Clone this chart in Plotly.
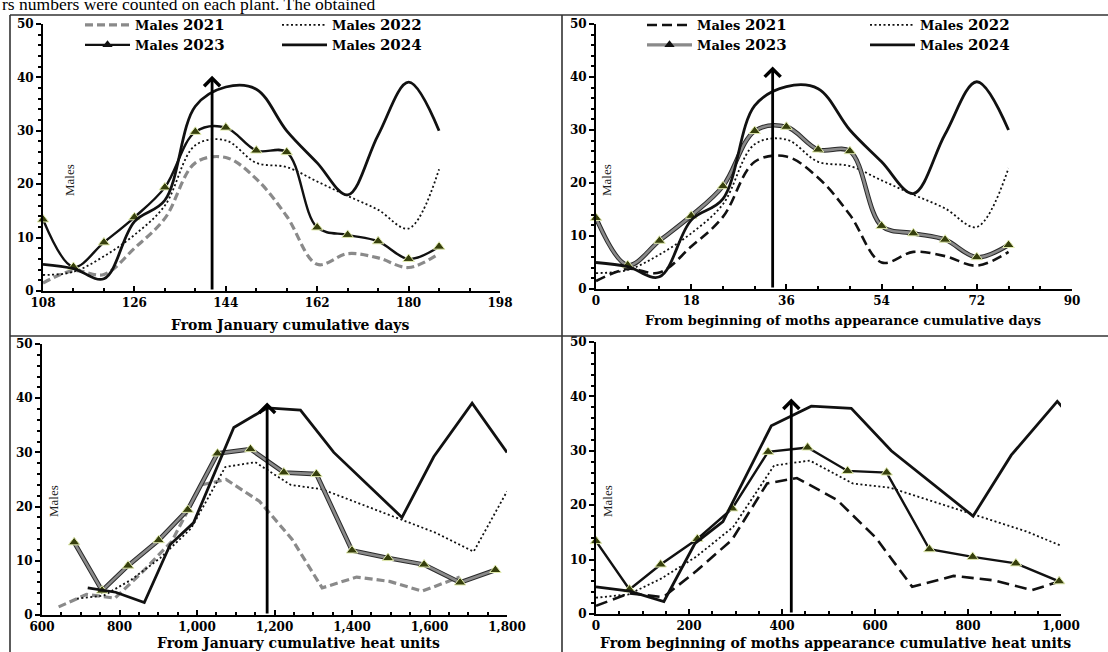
import plotly.graph_objects as go

# ---------------- data ----------------
days_jan = [108, 114, 120, 126, 132, 138, 144, 150, 156, 162, 168, 174, 180, 186]
days_moth = [0, 6, 12, 18, 24, 30, 36, 42, 48, 54, 60, 66, 72, 78]

males_2021 = [1.5, 3.8, 3.1, 8.0, 13.6, 24.0, 25.0, 21.0, 14.0, 5.0, 7.0, 6.2, 4.4, 7.0]
males_2022 = [3.0, 3.6, 6.5, 10.5, 16.0, 27.3, 28.2, 24.0, 23.2, 20.5, 17.8, 15.2, 11.7, 22.8]
males_2023 = [13.4, 4.5, 9.1, 13.8, 19.4, 29.8, 30.6, 26.3, 26.0, 11.9, 10.5, 9.3, 6.0, 8.3]
males_2024 = [5.0, 4.2, 2.3, 13.0, 17.0, 34.6, 38.2, 37.8, 30.0, 24.0, 18.0, 29.2, 39.1, 30.0]

heat_jan_2021 = [643, 715, 788, 860, 935, 1011, 1075, 1161, 1245, 1323, 1412, 1497, 1581, 1678]
heat_jan_2022 = [690, 760, 830, 905, 985, 1073, 1150, 1242, 1323, 1420, 1520, 1615, 1714, 1800]
heat_jan_2023 = [683, 755, 822, 901, 976, 1053, 1138, 1224, 1308, 1400, 1493, 1586, 1679, 1770]
heat_jan_2024 = [718, 790, 864, 931, 991, 1095, 1181, 1267, 1353, 1440, 1529, 1611, 1710, 1800]

heat_moth_2021 = [0, 72, 145, 217, 292, 368, 432, 518, 602, 680, 769, 854, 938, 1035]
heat_moth_2022 = [0, 70, 140, 215, 295, 383, 460, 552, 633, 730, 830, 925, 1024, 1110]
heat_moth_2023 = [0, 72, 139, 218, 293, 370, 455, 541, 625, 717, 810, 903, 996, 1087]
heat_moth_2024 = [0, 72, 146, 213, 273, 377, 463, 549, 635, 722, 811, 893, 992, 1082]

# peak-marker arrows (x position, arrow tip height) per panel
arrow_x = [141.3, 33.4, 1181, 420]
arrow_top = [40.3, 42.0, 39.2, 39.6]

x_titles = ["From January cumulative days",
            "From beginning of moths appearance cumulative days",
            "From January cumulative heat units",
            "From beginning of moths appearance cumulative heat units"]
y_label = "Males"
years = ["2021", "2022", "2023", "2024"]
top_text = "rs numbers were counted on each plant. The obtained"

# ---------------- styling ----------------
W, H = 1108, 652
GRAY = "#8a8a8a"
BLACK = "#111111"
SERIF = "DejaVu Serif"


def px_x(p):
    return p / W


def px_y(p):
    return 1 - p / H


fig = go.Figure()


def name(y):
    return "Males <span style='font-size:15px'>%s</span>" % y


marker_tri = dict(symbol="triangle-up", size=10, color="#363f0c",
                  line=dict(color="#e2ebb0", width=1))

panels = [
    dict(x="x", y="y", xs=[days_jan] * 4, shape="spline",
         c21=GRAY, d21="8px,4px", w21=3.2, c23=BLACK, w23=2.4, edge=False,
         legends=("legend", "legend2", "legend", "legend2"), show=True),
    dict(x="x2", y="y2", xs=[days_moth] * 4, shape="spline",
         c21=BLACK, d21="10px,5px", w21=2.6, c23=GRAY, w23=2.6, edge=True,
         legends=("legend3", "legend4", "legend3", "legend4"), show=True),
    dict(x="x3", y="y3", xs=[heat_jan_2021, heat_jan_2022, heat_jan_2023, heat_jan_2024],
         shape="linear", c21=GRAY, d21="8px,4px", w21=3.2, c23=GRAY, w23=2.6, edge=True,
         legends=("legend",) * 4, show=False),
    dict(x="x4", y="y4", xs=[heat_moth_2021, heat_moth_2022, heat_moth_2023, heat_moth_2024],
         shape="linear", c21=BLACK, d21="12px,6px", w21=2.6, c23=BLACK, w23=2.4, edge=False,
         legends=("legend",) * 4, show=False),
]
x_ranges = [[108, 198], [0, 90], [600, 1800], [0, 1000]]

for i, p in enumerate(panels):
    xs = p["xs"]
    sm = dict(shape=p["shape"])
    fig.add_trace(go.Scatter(x=xs[0], y=males_2021, mode="lines", name=name("2021"),
                             line=dict(color=p["c21"], width=p["w21"], dash=p["d21"], **sm),
                             xaxis=p["x"], yaxis=p["y"], legend=p["legends"][0],
                             showlegend=p["show"]))
    fig.add_trace(go.Scatter(x=xs[1], y=males_2022, mode="lines", name=name("2022"),
                             line=dict(color=BLACK, width=1.8, dash="2px,2.5px", **sm),
                             xaxis=p["x"], yaxis=p["y"], legend=p["legends"][1],
                             showlegend=p["show"]))
    lo, hi = x_ranges[i]
    if p["edge"]:
        fig.add_trace(go.Scatter(x=xs[2], y=males_2023, mode="lines",
                                 line=dict(color="#2a2a2a", width=p["w23"] + 2.0, **sm),
                                 xaxis=p["x"], yaxis=p["y"], showlegend=False))
    fig.add_trace(go.Scatter(x=xs[2], y=males_2023, mode="lines", name=name("2023"),
                             line=dict(color=p["c23"], width=p["w23"], **sm),
                             xaxis=p["x"], yaxis=p["y"], showlegend=False))
    vis = [(a, b) for a, b in zip(xs[2], males_2023) if lo <= a <= hi]
    fig.add_trace(go.Scatter(x=[a for a, b in vis], y=[b for a, b in vis],
                             mode="markers", name=name("2023"),
                             marker=marker_tri, cliponaxis=False,
                             xaxis=p["x"], yaxis=p["y"], showlegend=False))
    if p["show"]:
        fig.add_trace(go.Scatter(x=[None], y=[None], mode="lines+markers", name=name("2023"),
                                 line=dict(color=p["c23"], width=p["w23"] + (0.6 if p["edge"] else 0)),
                                 marker=dict(symbol="triangle-up", size=9, color=BLACK),
                                 xaxis=p["x"], yaxis=p["y"], legend=p["legends"][2],
                                 showlegend=True))
    fig.add_trace(go.Scatter(x=xs[3], y=males_2024, mode="lines", name=name("2024"),
                             line=dict(color=BLACK, width=2.8, **sm),
                             xaxis=p["x"], yaxis=p["y"], legend=p["legends"][3],
                             showlegend=p["show"]))

tickfont = dict(family=SERIF, size=12, color="black", weight="bold")


def xax(domain, rng, dtick, minor, anchor, fmt=""):
    return dict(domain=domain, range=rng, tick0=rng[0], dtick=dtick, anchor=anchor,
                automargin=False,
                showline=True, linecolor="black", linewidth=2,
                ticks="inside", ticklen=5, tickwidth=2, tickcolor="black",
                minor=dict(dtick=minor, tick0=rng[0], ticks="inside", ticklen=3,
                           tickwidth=1.5, tickcolor="black"),
                showgrid=False, zeroline=False, tickfont=tickfont, tickformat=fmt)


def yax(domain, anchor):
    return dict(domain=domain, range=[0, 50], dtick=10, anchor=anchor,
                automargin=False,
                showline=True, linecolor="black", linewidth=2,
                ticks="outside", ticklen=5, tickwidth=2, tickcolor="black",
                minor=dict(dtick=2, ticks="outside", ticklen=3, tickwidth=1.5,
                           tickcolor="black"),
                showgrid=False, zeroline=False, tickfont=tickfont)


leg_common = dict(xanchor="left", yanchor="top", bgcolor="rgba(0,0,0,0)",
                  font=dict(family=SERIF, size=13, color="black", weight="bold"),
                  tracegroupgap=0, itemwidth=45, orientation="v")

fig.update_layout(
    width=W, height=H, margin=dict(l=0, r=0, t=0, b=0, autoexpand=False),
    paper_bgcolor="white", plot_bgcolor="white",
    xaxis=xax([px_x(43), px_x(500)], x_ranges[0], 18, 6, "y"),
    yaxis=yax([px_y(291), px_y(24)], "x"),
    xaxis2=xax([px_x(596), px_x(1072)], x_ranges[1], 18, 6, "y2"),
    yaxis2=yax([px_y(289), px_y(24)], "x2"),
    xaxis3=xax([px_x(42), px_x(507)], x_ranges[2], 200, 50, "y3", ","),
    yaxis3=yax([px_y(615), px_y(344)], "x3"),
    xaxis4=xax([px_x(596), px_x(1061)], x_ranges[3], 200, 50, "y4", ","),
    yaxis4=yax([px_y(614), px_y(342)], "x4"),
    legend=dict(x=px_x(80), y=px_y(10), **leg_common),
    legend2=dict(x=px_x(277), y=px_y(10), **leg_common),
    legend3=dict(x=px_x(642), y=px_y(10), **leg_common),
    legend4=dict(x=px_x(865), y=px_y(10), **leg_common),
    showlegend=True,
)

# arrows
axes_ids = [("x", "y"), ("x2", "y2"), ("x3", "y3"), ("x4", "y4")]
for (xa, ya), ax_, top in zip(axes_ids, arrow_x, arrow_top):
    fig.add_annotation(x=ax_, y=top, ax=ax_, ay=0, xref=xa, yref=ya, axref=xa, ayref=ya,
                       text="", showarrow=True, arrowhead=4, arrowsize=1.1,
                       arrowwidth=2.8, arrowcolor="black", standoff=0)

# axis titles
title_pos = [(290, 325, 14), (843, 321, 13), (298, 643, 14), (835, 643, 14)]
for t, (cx, cy, fs) in zip(x_titles, title_pos):
    fig.add_annotation(x=px_x(cx), y=px_y(cy), xref="paper", yref="paper", text=t,
                       showarrow=False, xanchor="center", yanchor="middle",
                       font=dict(family=SERIF, size=fs, color="black", weight="bold"))

# "Males" labels
for cx, cy in [(70, 180), (607, 180), (53, 501), (607, 501)]:
    fig.add_annotation(x=px_x(cx), y=px_y(cy), xref="paper", yref="paper", text=y_label,
                       showarrow=False, textangle=-90, xanchor="center", yanchor="middle",
                       font=dict(family="Liberation Serif", size=13, color="#222"))

# top cropped text line
fig.add_annotation(x=0, y=px_y(4), xref="paper", yref="paper", text=top_text,
                   showarrow=False, xanchor="left", yanchor="middle",
                   font=dict(family="Liberation Serif", size=17.5, color="black"))

# panel borders
for x0, y0, x1, y1 in [(10, 15, 10, H), (10, 15, W, 15), (562, 15, 562, H), (10, 336, W, 336)]:
    fig.add_shape(type="line", xref="paper", yref="paper",
                  x0=px_x(x0), y0=px_y(y0), x1=px_x(x1), y1=px_y(y1),
                  line=dict(color="#333", width=1.6))

fig.write_html("out.html", config={"displayModeBar": False},
               post_script="document.body.style.margin='0';document.body.style.overflow='hidden';")
